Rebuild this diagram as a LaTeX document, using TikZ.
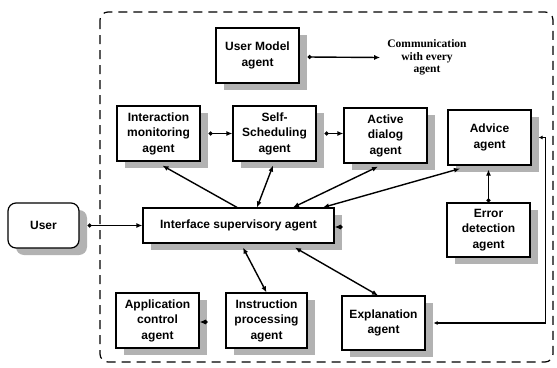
\documentclass[tikz,border=0pt]{standalone}
\usepackage{fontspec}
\setmainfont{Liberation Sans}
\newfontfamily\commfont{Liberation Serif}
\usetikzlibrary{arrows.meta,calc,shadows}
\begin{document}
\begin{tikzpicture}[x=1pt,y=-1pt,
  agent/.style={draw,line width=1.2pt,fill=white,align=center,inner sep=1pt,
    font=\fontsize{12}{15.5}\selectfont\bfseries,
    minimum width=83pt,minimum height=55pt,
    general shadow={fill=black!30,shadow xshift=8pt,shadow yshift=-7pt}},
  conn/.style={line width=1.4pt},
  dh/.style={conn,{Latex[length=6pt,width=5pt]}-{Latex[length=6pt,width=5pt]}},
  dt/.style={conn,{Circle[length=4pt]}-{Latex[length=6pt,width=5pt]}},
  sh/.style={conn,{Latex[length=6pt,width=5pt]}-}]
\useasboundingbox (0,0) rectangle (557,367);
% boundary
\draw[line width=1.2pt,dash pattern=on 9pt off 6pt,rounded corners=8pt]
  (100,12) rectangle (553,362);
% nodes
\node[agent] (um)  at (257.5,55.5) {User Model\\agent};
\node[agent] (im)  at (158.5,133.5) {Interaction\\monitoring\\agent};
\node[agent] (ss)  at (274.5,133.5) {Self-\\Scheduling\\agent};
\node[agent] (ad)  at (385.5,135.5) {Active\\dialog\\agent};
\node[agent] (adv) at (489.5,137.5) {Advice\\agent};
\node[agent,minimum width=191pt,minimum height=35pt] (isa) at (238.5,225.5) {Interface supervisory agent};
\node[agent,minimum width=71pt,minimum height=45pt,rounded corners=8pt] (user) at (43.5,225.5) {User};
\node[agent,minimum height=54pt] (err) at (488.5,230) {Error\\detection\\agent};
\node[agent] (app) at (157.5,320.5) {Application\\control\\agent};
\node[agent,minimum width=81pt] (ipa) at (266.5,320.5) {Instruction\\processing\\agent};
\node[agent,minimum height=54pt] (exp) at (383.5,323) {Explanation\\agent};
\node[align=center,inner sep=0pt,font=\commfont\fontsize{11.5}{12.5}\selectfont\bfseries] (comm) at (427,57.5)
  {Communication\\with every\\agent};
% connectors
\draw[dt] ($(um.east)+(8,1.5)$) -- ($(comm.west)+(-7,0)$);
\draw[dt] ($(user.east)+(8,0)$) -- (isa.west);
\draw[dt] ($(im.east)+(8,0)$) -- (im.east -| ss.west);
\draw[dt] ($(ss.east)+(8,0)$) -- (ss.east -| ad.west);
\draw[dt] ($(app.east)+(8,1.5)$) -- ($(app.east)+(0,1.5)$ -| ipa.west);
\draw[sh] ($(im.south)+(4,4)$) -- ($(isa.north)+(-1.5,0)$);
\draw[dh] ($(ss.south)+(-1.5,4)$) -- ($(isa.north)+(18.5,0)$);
\draw[dh] ($(ad.south)+(-7.5,3)$) -- ($(isa.north)+(54.5,0)$);
\draw[dh] ($(adv.south)+(-29.5,3)$) -- ($(isa.north)+(84.5,0)$);
\draw[dt] ($(isa.east)+(8,1.5)$) -- ($(isa.east)+(0,1.5)$ -| err.west);
\draw[dt] (err.north) -- ($(err.north |- adv.south)+(0,4)$);
\coordinate (rt) at ($(adv.east)+(14,0)$);
\draw[conn,{Latex[length=4pt,width=4pt]}-{Latex[length=4pt,width=4pt]}]
  ($(adv.east)+(7,0)$) -- (rt) -- (rt |- exp.east) -- ($(exp.east)+(8,0)$);
\draw[dh] ($(isa.south)+(4.5,4)$) -- (ipa.north);
\draw[dh] ($(isa.south)+(56.5,4)$) -- ($(exp.north)+(-5.5,0)$);
\end{tikzpicture}
\end{document}
